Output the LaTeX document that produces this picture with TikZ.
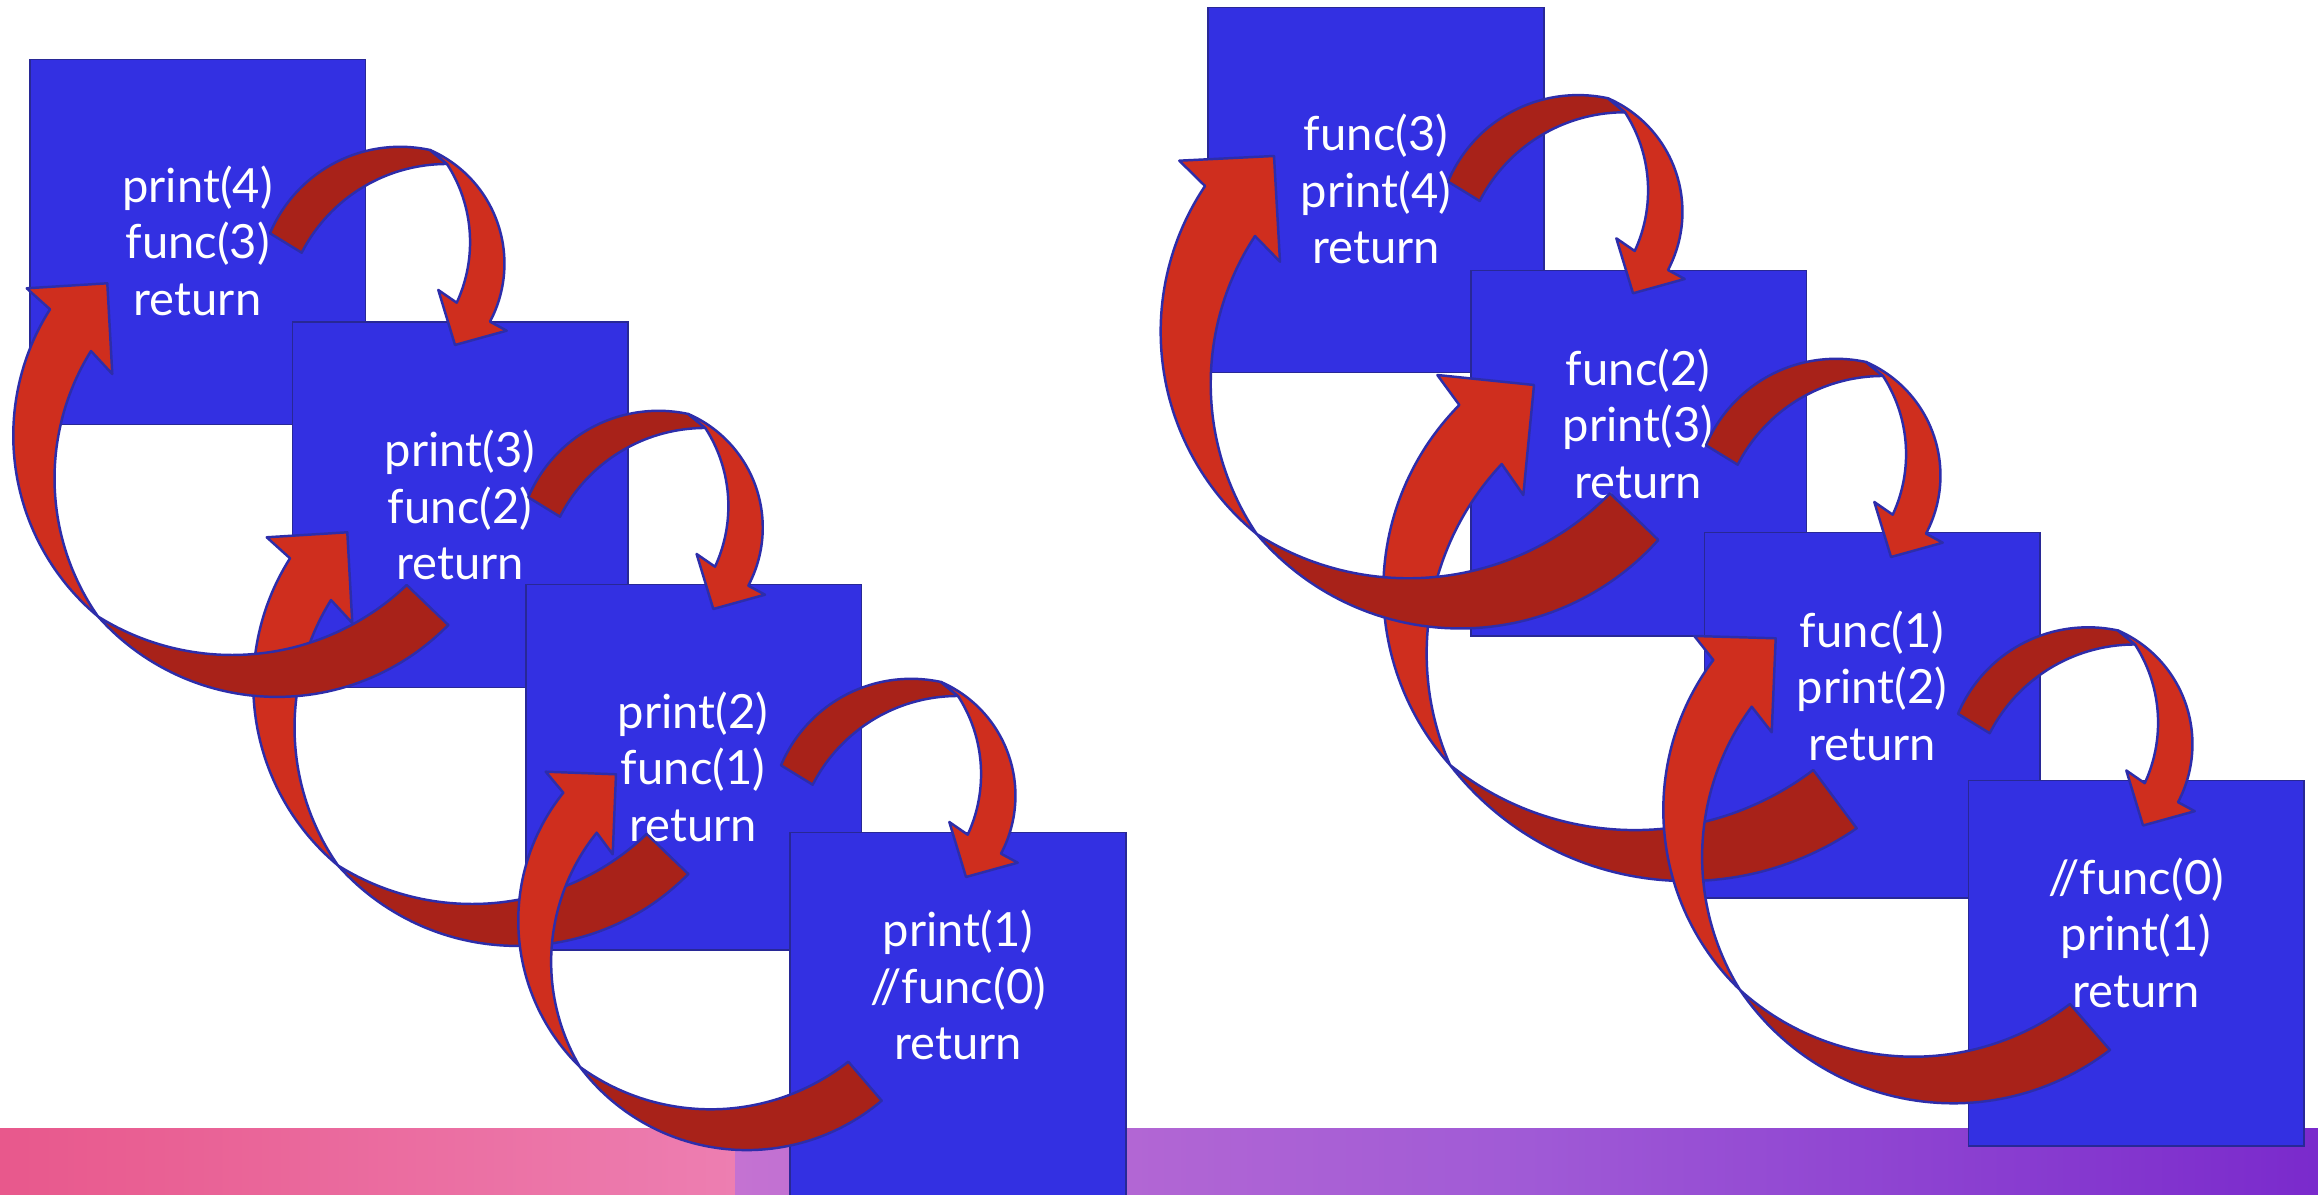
\documentclass[tikz,border=0pt]{standalone}
\usepackage{fontspec}
\setmainfont{Lato}
\definecolor{boxblue}{RGB}{51,48,226}
\definecolor{boxedge}{RGB}{40,40,150}
\definecolor{arredge}{RGB}{45,45,170}
\definecolor{arrlight}{RGB}{207,46,30}
\definecolor{arrdark}{RGB}{168,34,25}
\definecolor{pinkL}{RGB}{232,88,140}
\definecolor{pinkR}{RGB}{237,126,177}
\definecolor{purL}{RGB}{196,114,210}
\definecolor{purM}{RGB}{160,90,214}
\definecolor{purR}{RGB}{122,42,204}
\tikzset{
 box/.style={fill=boxblue, draw=boxedge, line width=0.45pt, minimum width=3.355cm, minimum height=3.65cm, anchor=north west, inner sep=0pt, outer sep=0pt},
 darkpart/.style={fill=arrdark, draw=arredge, line width=0.7pt, line join=round},
 lightpart/.style={fill=arrlight, draw=arredge, line width=0.7pt, line join=round},
 lbl/.style={text=white, font=\fontsize{13.4}{16}\selectfont, anchor=base, inner sep=0pt}
}
% circle arc through three points (start, middle, end): defines \<p>cx \<p>cy \<p>rad \<p>sa \<p>ea
\newcommand\mkarc[7]{%
  \pgfmathsetmacro\Tax{((#4)-(#2))/100}%
  \pgfmathsetmacro\Tay{((#5)-(#3))/100}%
  \pgfmathsetmacro\Tbx{((#6)-(#2))/100}%
  \pgfmathsetmacro\Tby{((#7)-(#3))/100}%
  \pgfmathsetmacro\Tdd{2*((\Tax)*(\Tby)-(\Tay)*(\Tbx))}%
  \pgfmathsetmacro\Taa{(\Tax)*(\Tax)+(\Tay)*(\Tay)}%
  \pgfmathsetmacro\Tbb{(\Tbx)*(\Tbx)+(\Tby)*(\Tby)}%
  \pgfmathsetmacro\Tux{((\Tby)*(\Taa)-(\Tay)*(\Tbb))/(\Tdd)}%
  \pgfmathsetmacro\Tuy{((\Tax)*(\Tbb)-(\Tbx)*(\Taa))/(\Tdd)}%
  \pgfmathsetmacro\Tcx{(#2)+100*(\Tux)}%
  \pgfmathsetmacro\Tcy{(#3)+100*(\Tuy)}%
  \pgfmathsetmacro\Trad{100*sqrt((\Tux)*(\Tux)+(\Tuy)*(\Tuy))}%
  \pgfmathsetmacro\Tsa{atan2(-1*(\Tuy),-1*(\Tux))}%
  \pgfmathsetmacro\Tma{atan2((\Tay)-(\Tuy),(\Tax)-(\Tux))}%
  \pgfmathsetmacro\Tea{atan2((\Tby)-(\Tuy),(\Tbx)-(\Tux))}%
  \pgfmathsetmacro\Tdm{mod((\Tma)-(\Tsa)+720,360)}%
  \pgfmathsetmacro\Tde{mod((\Tea)-(\Tsa)+720,360)}%
  \pgfmathsetmacro\Tend{((\Tdm)<(\Tde)) ? ((\Tsa)+(\Tde)) : ((\Tsa)-360+(\Tde))}%
  \expandafter\let\csname #1cx\endcsname\Tcx
  \expandafter\let\csname #1cy\endcsname\Tcy
  \expandafter\let\csname #1rad\endcsname\Trad
  \expandafter\let\csname #1sa\endcsname\Tsa
  \expandafter\let\csname #1ea\endcsname\Tend}
\newcommand\crescent[1]{%
  \filldraw[#1] plot[domain=\Psa:\Pea,samples=60,variable=\myang] ({\Pcx+\Prad*cos(\myang)},{\Pcy+\Prad*sin(\myang)})
   -- plot[domain=\Qsa:\Qea,samples=60,variable=\myang] ({\Qcx+\Qrad*cos(\myang)},{\Qcy+\Qrad*sin(\myang)}) -- cycle;}
\newcommand\headpart[3]{%
  \filldraw[lightpart] plot[domain=\Psa:\Pea,samples=60,variable=\myang] ({\Pcx+\Prad*cos(\myang)},{\Pcy+\Prad*sin(\myang)})
   -- #1 -- #2 -- #3
   -- plot[domain=\Qsa:\Qea,samples=60,variable=\myang] ({\Qcx+\Qrad*cos(\myang)},{\Qcy+\Qrad*sin(\myang)}) -- cycle;}
\newcommand\boxlines[6]{%
 \node[lbl] (#1a) at (#2,#3-56.5) {#4};
 \node[lbl] (#1b) at (#2,#3) {#5};
 \node[lbl] (#1c) at (#2,#3+56.5) {#6};}
\newcommand\toparrow[2]{%
 \begin{scope}[shift={(#1,#2)}]
 \mkarc{P}{270}{233.3}{363.3}{151.7}{430}{150}%
 \mkarc{Q}{447}{164}{366.7}{185}{301.7}{252.7}%
 \crescent{darkpart}%
 \mkarc{P}{430}{150}{503.3}{246.7}{490}{321.7}%
 \mkarc{Q}{456.7}{302.7}{470}{246.7}{447}{164}%
 \headpart{(506.7,330.7)}{(455,345)}{(438.3,290)}%
 \end{scope}}
\newcommand\retA{%
 \mkarc{P}{98}{616.5}{266.7}{696.7}{448.3}{625}%
 \mkarc{Q}{406.7}{585}{233.3}{655}{98}{616.5}%
 \crescent{darkpart}%
 \mkarc{P}{98}{616.5}{13.3}{440}{50}{309.3}%
 \mkarc{Q}{91}{351}{55}{463.3}{98}{616.5}%
 \headpart{(26.7,288.3)}{(107.3,283.3)}{(112.3,374)}}
\begin{document}
\begin{tikzpicture}[x=0.01cm,y=-0.01cm]
\useasboundingbox (0,0) rectangle (2318,1195);
\fill[white] (0,0) rectangle (2318,1195);
% bottom band
\shade[left color=pinkL, right color=pinkR] (0,1128) rectangle (735,1195);
\shade[left color=purL, right color=purR, middle color=purM] (735,1128) rectangle (2318,1195);
% boxes
\node[box] (A) at (30,59.5) {};
\node[box] (B) at (292.3,322.3) {};
\node[box] (C) at (526,584.5) {};
\node[box] (D) at (790,832.5) {};
\node[box] (E) at (1208,7.5) {};
\node[box] (F) at (1470.7,270.6) {};
\node[box] (G) at (1704.3,532.7) {};
\node[box] (H) at (1968.3,780.7) {};
% texts
\boxlines{tA}{197.5}{259}{print(4)}{func(3)}{return}
\boxlines{tB}{460}{523.3}{print(3)}{func(2)}{return}
\boxlines{tC}{693}{785}{print(2)}{func(1)}{return}
\boxlines{tD}{958}{1003.3}{print(1)}{//func(0)}{return}
\boxlines{tE}{1376}{207.3}{func(3)}{print(4)}{return}
\boxlines{tF}{1638}{441.7}{func(2)}{print(3)}{return}
\boxlines{tG}{1872}{704}{func(1)}{print(2)}{return}
\boxlines{tH}{2136}{950.6}{//func(0)}{print(1)}{return}
% call arrows
\toparrow{0}{0}
\toparrow{258.3}{264}
\toparrow{511}{532}
\toparrow{1178}{-51.7}
\toparrow{1436}{212}
\toparrow{1688}{480.5}
% return arrows, left column
\begin{scope}[shift={(240,249)}]\retA\end{scope}
\retA
\mkarc{P}{580}{1067}{740}{1150}{881.7}{1100.7}%
\mkarc{Q}{848.3}{1061.7}{706.7}{1109.3}{580}{1067}%
\crescent{darkpart}
\mkarc{P}{580}{1067}{518.3}{916.7}{563.3}{792.7}%
\mkarc{Q}{596.7}{832.7}{551.7}{946.7}{580}{1067}%
\headpart{(545.7,771.7)}{(616,774.3)}{(612.7,854.3)}
% return arrows, right column
\mkarc{P}{1450}{765}{1626.7}{875}{1856.7}{828.3}%
\mkarc{Q}{1813.3}{770}{1626.7}{830}{1450}{765}%
\crescent{darkpart}
\mkarc{P}{1450}{765}{1385}{620}{1459.3}{405}%
\mkarc{Q}{1501.7}{464}{1426.7}{660}{1450}{765}%
\headpart{(1437.3,375)}{(1534,385)}{(1523.3,495)}
\mkarc{P}{1256.7}{534}{1450}{628.3}{1658.3}{540}%
\mkarc{Q}{1610}{493.3}{1406.7}{578.3}{1256.7}{534}%
\crescent{darkpart}
\mkarc{P}{1256.7}{534}{1160.7}{336.7}{1205}{186}%
\mkarc{Q}{1255}{236}{1210.7}{383.3}{1256.7}{534}%
\headpart{(1179.3,160.7)}{(1274,156)}{(1280,261.7)}
\mkarc{P}{1740}{990}{1956.7}{1103.3}{2110}{1050}%
\mkarc{Q}{2070}{1004}{1916.7}{1056.7}{1740}{990}%
\crescent{darkpart}
\mkarc{P}{1740}{990}{1663.3}{806.7}{1713.3}{660}%
\mkarc{Q}{1751.7}{706.7}{1702.3}{846.7}{1740}{990}%
\headpart{(1694.3,636)}{(1775.7,638.3)}{(1771.7,732.3)}
\end{tikzpicture}
\end{document}
